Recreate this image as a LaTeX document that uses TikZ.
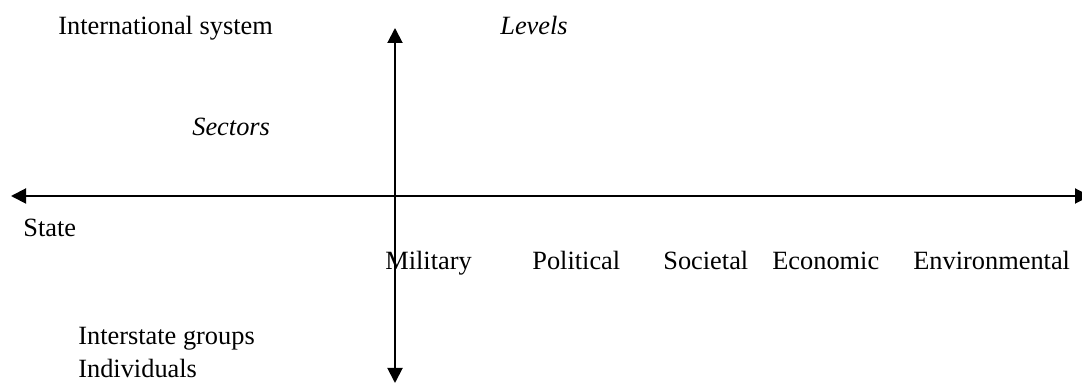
\documentclass[tikz,border=0pt]{standalone}
\usepackage{fontspec}
\setmainfont{Liberation Serif}
\usetikzlibrary{arrows.meta}

\begin{document}
\begin{tikzpicture}[
lbl/.style={anchor=base west, inner sep=0pt, font=\fontsize{15}{18}\selectfont},
axis/.style={line width=1.1pt, {Triangle[length=3mm, width=3mm]}-{Triangle[length=3mm, width=3mm]}}
]
\useasboundingbox (0,0) rectangle (21.64,7.68);

% ---------- AXES ----------
\coordinate (left) at (0.22,3.76);
\coordinate (right) at (21.80,3.76);
\coordinate (top) at (7.90,7.12);
\coordinate (bottom) at (7.90,0.02);

\draw[axis] (left) -- (right);
\draw[axis] (bottom) -- (top);

% ---------- LEVELS ----------
\node[lbl] (intl) at (1.16,6.98) {International system};
\node[lbl] (state) at (0.46,2.94) {State};
\node[lbl] (inter) at (1.56,0.78) {Interstate groups};
\node[lbl] (indiv) at (1.56,0.12) {Individuals};

% titles
\node[lbl] (levels) at (10.00,6.98) {\itshape Levels};
\node[lbl] (sectors) at (3.84,4.96) {\itshape Sectors};

% ---------- SECTORS ----------
\node[lbl] (mil) at (7.70,2.28) {Military};
\node[lbl] (pol) at (10.64,2.28) {Political};
\node[lbl] (soc) at (13.26,2.28) {Societal};
\node[lbl] (eco) at (15.44,2.28) {Economic};
\node[lbl] (env) at (18.26,2.28) {Environmental};

\end{tikzpicture}
\end{document}
